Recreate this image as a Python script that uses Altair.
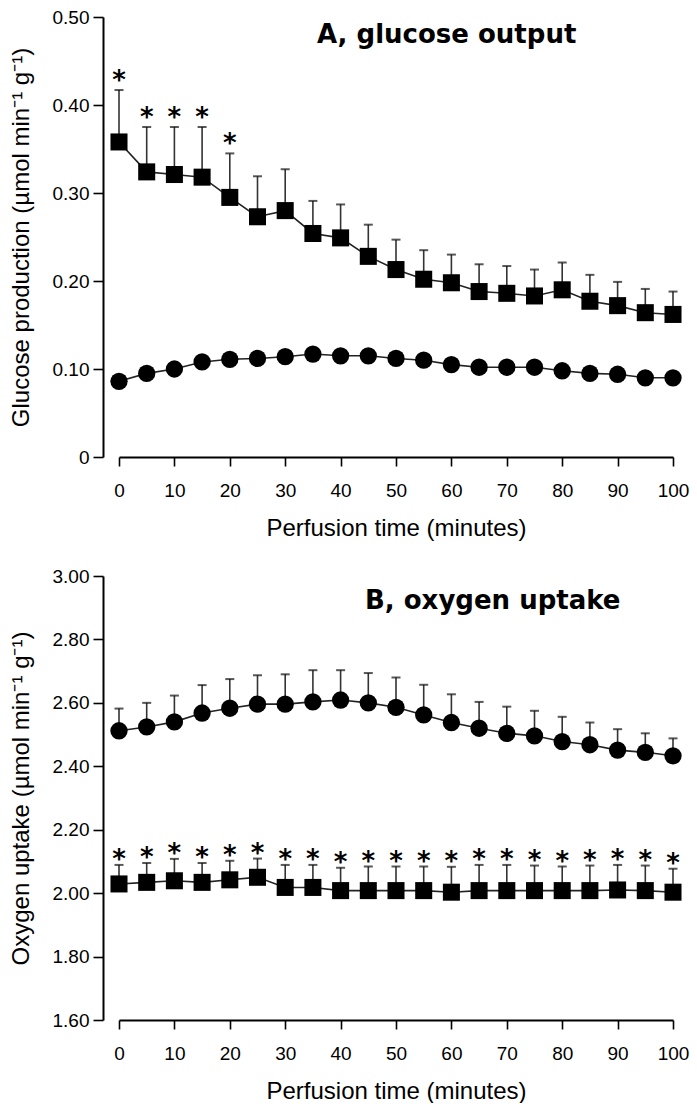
import altair as alt
import pandas as pd

# ---------------- data ----------------
times = [0, 5, 10, 15, 20, 25, 30, 35, 40, 45, 50, 55, 60, 65, 70, 75, 80, 85, 90, 95, 100]

# Panel A: glucose output (umol min-1 g-1)
glc_square = [0.358, 0.324, 0.321, 0.318, 0.295, 0.273, 0.280, 0.254, 0.249, 0.228, 0.213,
              0.202, 0.198, 0.188, 0.186, 0.183, 0.190, 0.177, 0.172, 0.164, 0.162]
glc_square_sem = [0.059, 0.051, 0.054, 0.057, 0.050, 0.046, 0.047, 0.037, 0.038, 0.036, 0.034,
                  0.033, 0.032, 0.031, 0.031, 0.030, 0.031, 0.030, 0.027, 0.027, 0.026]
glc_square_sig = [True, True, True, True, True] + [False] * 16
glc_circle = [0.086, 0.095, 0.100, 0.108, 0.111, 0.112, 0.114, 0.117, 0.115, 0.115, 0.112,
              0.110, 0.105, 0.102, 0.102, 0.102, 0.098, 0.095, 0.094, 0.090, 0.090]
glc_circle_sem = [0.0] * 21

# Panel B: oxygen uptake (umol min-1 g-1)
o2_circle = [2.512, 2.524, 2.540, 2.568, 2.583, 2.596, 2.596, 2.603, 2.609, 2.600, 2.586,
             2.562, 2.538, 2.520, 2.504, 2.496, 2.478, 2.468, 2.451, 2.444, 2.433]
o2_circle_sem = [0.070, 0.076, 0.083, 0.088, 0.092, 0.091, 0.094, 0.100, 0.094, 0.094, 0.094,
                 0.095, 0.089, 0.083, 0.084, 0.079, 0.078, 0.070, 0.066, 0.060, 0.055]
o2_square = [2.029, 2.034, 2.039, 2.034, 2.042, 2.050, 2.018, 2.018, 2.008, 2.008, 2.008,
             2.008, 2.003, 2.008, 2.008, 2.008, 2.008, 2.008, 2.010, 2.008, 2.003]
o2_square_sem = [0.060, 0.061, 0.069, 0.061, 0.060, 0.059, 0.071, 0.071, 0.072, 0.076, 0.076,
                 0.076, 0.080, 0.081, 0.081, 0.079, 0.076, 0.079, 0.079, 0.079, 0.074]
o2_square_sig = [True] * 21

x_ticks = [0, 10, 20, 30, 40, 50, 60, 70, 80, 90, 100]
a_ticks = [0, 0.1, 0.2, 0.3, 0.4, 0.5]
b_ticks = [1.6, 1.8, 2.0, 2.2, 2.4, 2.6, 2.8, 3.0]
panel_titles = ["A, glucose output", "B, oxygen uptake"]
x_title = "Perfusion time (minutes)"
a_ytitle = "Glucose production (µmol min⁻¹ g⁻¹)"
b_ytitle = "Oxygen uptake (µmol min⁻¹ g⁻¹)"


def frame(sq, sq_sem, sq_sig, ci, ci_sem):
    rows = []
    for i, t in enumerate(times):
        rows.append(dict(t=t, group="circle", mean=ci[i], top=ci[i] + ci_sem[i], sig=False))
        rows.append(dict(t=t, group="square", mean=sq[i], top=sq[i] + sq_sem[i], sig=sq_sig[i]))
    return pd.DataFrame(rows)


FONT = "Liberation Sans, Arial, sans-serif"


def panel(df, domain, ticks, ytitle, label_expr, title, tx, ty, h, star_dy):
    xenc = alt.X("t:Q", scale=alt.Scale(domain=[0, 100], nice=False),
                 axis=alt.Axis(values=x_ticks, title=x_title, format="d"))
    yax = alt.Axis(values=ticks, title=ytitle, labelExpr=label_expr)
    ysc = alt.Scale(domain=domain, nice=False, zero=False)

    def Y(field):
        return alt.Y(field, scale=ysc, axis=yax)

    base = alt.Chart(df)
    err = base.mark_rule(color="#333333", strokeWidth=1.6).encode(x=xenc, y=Y("mean:Q"), y2="top:Q")
    cap = base.mark_tick(orient="horizontal", size=9, thickness=2, color="#111111").encode(x=xenc, y=Y("top:Q"))
    line = base.mark_line(color="#222222", strokeWidth=1.6).encode(x=xenc, y=Y("mean:Q"), detail="group:N")
    pts = base.mark_point(filled=True, opacity=1, color="black", strokeWidth=0).encode(
        x=xenc, y=Y("mean:Q"),
        shape=alt.Shape("group:N", scale=alt.Scale(domain=["circle", "square"], range=["circle", "square"]), legend=None),
        size=alt.Size("group:N", scale=alt.Scale(domain=["circle", "square"], range=[300, 290]), legend=None),
    )
    stars = base.transform_filter("datum.sig").mark_text(
        text="*", fontSize=26, fontWeight="bold", font="DejaVu Sans", dy=star_dy, baseline="middle", color="black"
    ).encode(x=xenc, y=Y("top:Q"))

    tdf = pd.DataFrame({"title": [title]})
    ttl = alt.Chart(tdf).mark_text(font="DejaVu Sans", fontWeight="bold", fontSize=26,
                                   align="left", baseline="alphabetic", color="black").encode(
        x=alt.value(tx), y=alt.value(ty), text="title:N")

    return alt.layer(err, cap, line, pts, stars, ttl).properties(width=554, height=h)


dfA = frame(glc_square, glc_square_sem, glc_square_sig, glc_circle, glc_circle_sem)
dfB = frame(o2_square, o2_square_sem, o2_square_sig, o2_circle, o2_circle_sem)

pA = panel(dfA, [0, 0.5], a_ticks, a_ytitle,
           "datum.value == 0 ? '0' : format(datum.value, '.2f')", panel_titles[0], 198, 26, 440, -9)
pB = panel(dfB, [1.6, 3.0], b_ticks, b_ytitle,
           "format(datum.value, '.2f')", panel_titles[1], 246, 33, 444, -5)

chart = alt.vconcat(pA, pB, spacing=27).properties(
    padding={"left": 1, "top": 0, "right": 0, "bottom": 0}
).configure_view(stroke=None).configure_axis(
    grid=False,
    domainColor="black", domainWidth=2,
    tickColor="black", tickWidth=1.6,
    labelFont=FONT, labelFontSize=19, labelColor="black",
    titleFont=FONT, titleFontSize=24, titleFontWeight="normal", titleColor="black",
).configure_axisY(
    offset=16, tickSize=10, labelPadding=4, titlePadding=19,
).configure_axisX(
    tickSize=9, labelPadding=15, titlePadding=16, labelFlush=False,
)

chart.save("out.html", embed_options={"renderer": "svg", "actions": False})
